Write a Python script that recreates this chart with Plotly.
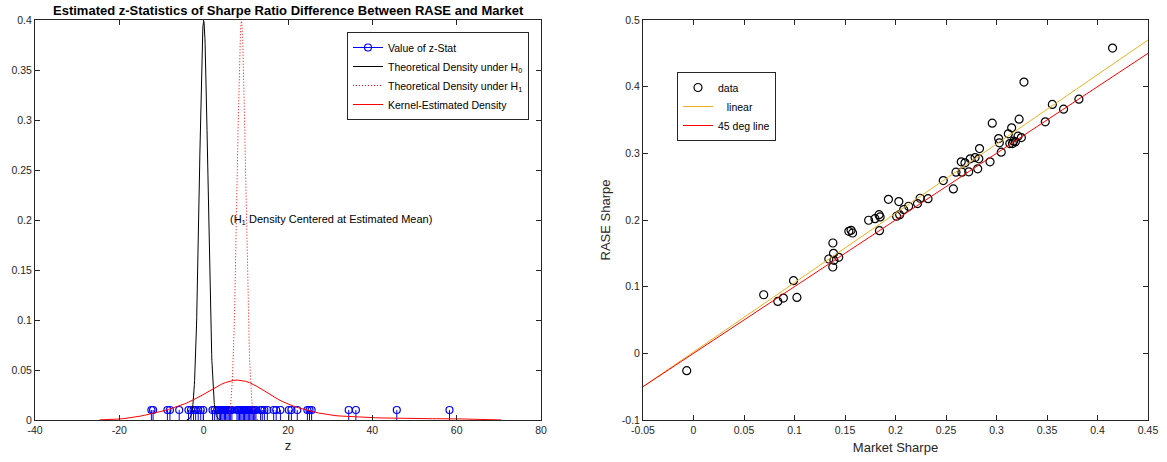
import numpy as np
import plotly.graph_objects as go

# ---------------- data ----------------
# Left panel: estimated z-statistics (stem positions)
z_stats = [-12.4, -12.0, -8.6, -8.0, -5.8,
           -3.6, -3.0, -2.4, -1.9, -1.3, -0.7, -0.1,
           2.1, 2.6, 3.2,
           3.7, 4.0, 4.3, 4.6, 4.9, 5.2, 5.5, 5.8, 6.1, 6.4, 6.7,
           7.9, 8.2, 8.5, 8.8, 9.1, 9.4, 9.7, 10.0, 10.3, 10.6, 10.9, 11.2, 11.5, 11.8, 12.1, 12.4,
           13.5, 13.9, 14.4, 15.1,
           16.6, 17.2, 18.2,
           20.2, 20.8, 22.2,
           24.6, 25.1, 25.6,
           34.4, 36.1, 45.8, 58.3,
           5.0, 9.6]
stem_height = 0.01
h0_mean, h0_sd = 0.0, 1.0
h1_mean, h1_sd = 8.95, 1.0
kde_bandwidth = 5.0
kde_support_pad = 12.3

# Right panel: Market Sharpe vs RASE Sharpe
market_sharpe = [-0.0067, 0.0695, 0.0835, 0.089, 0.099, 0.1024, 0.134, 0.138, 0.1386, 0.1379,
                 0.139, 0.1438, 0.1538, 0.156, 0.1575, 0.1734, 0.1797, 0.1837, 0.1848, 0.1841,
                 0.193, 0.2033, 0.2011, 0.2041, 0.2081, 0.213, 0.2218, 0.2244, 0.2322, 0.2473,
                 0.2573, 0.2599, 0.2651, 0.2658, 0.2688, 0.2725, 0.274, 0.2788, 0.2814, 0.2825,
                 0.2832, 0.2936, 0.2958, 0.3021, 0.3028, 0.3047, 0.3117, 0.3132, 0.315, 0.3158,
                 0.3169, 0.3187, 0.3213, 0.3224, 0.3246, 0.3272, 0.3483, 0.3553, 0.3664, 0.3816,
                 0.4149]
rase_sharpe = [-0.026, 0.0879, 0.0779, 0.0829, 0.109, 0.0839, 0.1415, 0.1655, 0.150, 0.1295,
               0.1395, 0.144, 0.183, 0.1845, 0.1805, 0.1996, 0.202, 0.208, 0.2046, 0.184,
               0.231, 0.2276, 0.2056, 0.208, 0.2156, 0.2206, 0.2246, 0.2326, 0.232, 0.2591,
               0.2466, 0.2717, 0.2872, 0.2717, 0.2857, 0.2722, 0.2917, 0.2937, 0.2767, 0.2917,
               0.3072, 0.2872, 0.3453, 0.3222, 0.3157, 0.3017, 0.3292, 0.3147, 0.3383, 0.3147,
               0.3182, 0.3172, 0.3257, 0.3513, 0.3237, 0.4069, 0.3473, 0.3733, 0.3663, 0.3813,
               0.4579]
fit_slope = 1.04
fit_intercept = 0.002
line_x_range = [-0.05, 0.45]

left_xticks = [-40, -20, 0, 20, 40, 60, 80]
left_xticklabels = ["-40", "-20", "0", "20", "40", "60", "80"]
left_yticks = [0, 0.05, 0.1, 0.15, 0.2, 0.25, 0.3, 0.35, 0.4]
left_yticklabels = ["0", "0.05", "0.1", "0.15", "0.2", "0.25", "0.3", "0.35", "0.4"]
right_xticks = [-0.05, 0, 0.05, 0.1, 0.15, 0.2, 0.25, 0.3, 0.35, 0.4, 0.45]
right_xticklabels = ["-0.05", "0", "0.05", "0.1", "0.15", "0.2", "0.25", "0.3", "0.35", "0.4", "0.45"]
right_yticks = [-0.1, 0, 0.1, 0.2, 0.3, 0.4, 0.5]
right_yticklabels = ["-0.1", "0", "0.1", "0.2", "0.3", "0.4", "0.5"]

# ---------------- derived curves ----------------
z = np.array(z_stats)

def normal_pdf(x, m, s):
    return np.exp(-0.5 * ((x - m) / s) ** 2) / (s * np.sqrt(2 * np.pi))

h0_x = np.linspace(h0_mean - 4 * h0_sd, h0_mean + 4 * h0_sd, 161)
h0_y = normal_pdf(h0_x, h0_mean, h0_sd)
h1_x = np.linspace(h1_mean - 4 * h1_sd, h1_mean + 4 * h1_sd, 161)
h1_y = normal_pdf(h1_x, h1_mean, h1_sd)
kde_x = np.linspace(z.min() - kde_support_pad, z.max() + kde_support_pad, 100)
kde_y = normal_pdf(kde_x[:, None], z[None, :], kde_bandwidth).mean(axis=1)

stem_x, stem_y = [], []
for v in z_stats:
    stem_x += [v, v, None]
    stem_y += [0, stem_height, None]

FONT = "Liberation Sans, Arial, Helvetica, sans-serif"
AX = "#262626"

fig = go.Figure()

# ---- left panel ----
fig.add_trace(go.Scatter(x=[None], y=[None], mode="lines+markers", name="Value of z-Stat",
                         line=dict(color="#0000FF", width=1),
                         marker=dict(symbol="circle-open", color="#0000FF", size=7, line=dict(width=1.2)),
                         legend="legend", xaxis="x", yaxis="y"))
fig.add_trace(go.Scatter(x=stem_x, y=stem_y, mode="lines", showlegend=False,
                         line=dict(color="#0000FF", width=1), xaxis="x", yaxis="y", hoverinfo="skip"))
fig.add_trace(go.Scatter(x=z_stats, y=[stem_height] * len(z_stats), mode="markers", showlegend=False,
                         marker=dict(symbol="circle-open", color="#0000FF", size=7, line=dict(width=1.2)),
                         xaxis="x", yaxis="y"))
fig.add_trace(go.Scatter(x=h0_x, y=h0_y, mode="lines", name="Theoretical Density under H<sub>0</sub>",
                         line=dict(color="black", width=1), legend="legend", xaxis="x", yaxis="y"))
fig.add_trace(go.Scatter(x=h1_x, y=h1_y, mode="lines", name="Theoretical Density under H<sub>1</sub>",
                         line=dict(color="#FF0000", width=1, dash="1px,2px"), legend="legend",
                         xaxis="x", yaxis="y"))
fig.add_trace(go.Scatter(x=kde_x, y=kde_y, mode="lines", name="Kernel-Estimated Density",
                         line=dict(color="#FF0000", width=1), legend="legend", xaxis="x", yaxis="y"))

# ---- right panel ----
fig.add_trace(go.Scatter(x=market_sharpe, y=rase_sharpe, mode="markers", name="data",
                         marker=dict(symbol="circle-open", color="black", size=8, line=dict(width=1.2)),
                         legend="legend2", xaxis="x2", yaxis="y2"))
fig.add_trace(go.Scatter(x=line_x_range, y=[fit_slope * v + fit_intercept for v in line_x_range],
                         mode="lines", name="\u00a0\u00a0\u00a0linear",
                         line=dict(color="#EDB120", width=1), legend="legend2", xaxis="x2", yaxis="y2"))
fig.add_trace(go.Scatter(x=line_x_range, y=line_x_range, mode="lines", name="45 deg line",
                         line=dict(color="#FF0000", width=1), legend="legend2", xaxis="x2", yaxis="y2"))

axis_common = dict(showline=True, linecolor=AX, linewidth=1, mirror="allticks", ticks="inside",
                   ticklen=5, tickcolor=AX, tickwidth=1, showgrid=False, zeroline=False,
                   automargin=False, tickfont=dict(family=FONT, size=10.5, color=AX))

W, H = 1167, 462
ybot, ytop = 1 - 420 / H, 1 - 20 / H
TITLE_FONT = dict(family=FONT, size=13, color=AX)

fig.update_layout(
    width=W, height=H, margin=dict(l=0, r=0, t=0, b=0),
    paper_bgcolor="white", plot_bgcolor="white",
    font=dict(family=FONT, size=11, color=AX),
    xaxis=dict(domain=[35 / W, 541 / W], range=[-40, 80], tickvals=left_xticks, ticktext=left_xticklabels,
               title=dict(text="z", font=TITLE_FONT, standoff=6), anchor="y", **axis_common),
    yaxis=dict(domain=[ybot, ytop], range=[0, 0.4], tickvals=left_yticks, ticktext=left_yticklabels,
               anchor="x", **axis_common),
    xaxis2=dict(domain=[643 / W, 1148 / W], range=[-0.05, 0.45], tickvals=right_xticks,
                ticktext=right_xticklabels,
                title=dict(text="Market Sharpe", font=TITLE_FONT, standoff=8), anchor="y2",
                **axis_common),
    yaxis2=dict(domain=[ybot, ytop], range=[-0.1, 0.5], tickvals=right_yticks, ticktext=right_yticklabels,
                title=dict(text="RASE Sharpe", font=TITLE_FONT, standoff=8), anchor="x2",
                **axis_common),
    legend=dict(x=347 / W, y=1 - 32 / H, xanchor="left", yanchor="top", bgcolor="white",
                bordercolor="#262626", borderwidth=1, font=dict(family=FONT, size=10.5, color="black"),
                tracegroupgap=0, itemwidth=30),
    legend2=dict(x=677 / W, y=1 - 72 / H, xanchor="left", yanchor="top", bgcolor="white",
                 bordercolor="#262626", borderwidth=1, font=dict(family=FONT, size=10.5, color="black"),
                 tracegroupgap=0, itemwidth=30),
    annotations=[
        dict(text="<b>Estimated z-Statistics of Sharpe Ratio Difference Between RASE and Market</b>",
             x=(35 + 541) / 2 / W, y=1 - 10 / H, xref="paper", yref="paper", showarrow=False,
             xanchor="center", yanchor="middle", font=dict(family=FONT, size=13, color="black")),
        dict(text="(H<sub>1</sub> Density Centered at Estimated Mean)", x=5.8, y=0.2, xref="x", yref="y",
             showarrow=False, xanchor="left", yanchor="middle", font=dict(family=FONT, size=11, color="black")),
    ],
)

fig.write_html("out.html")
